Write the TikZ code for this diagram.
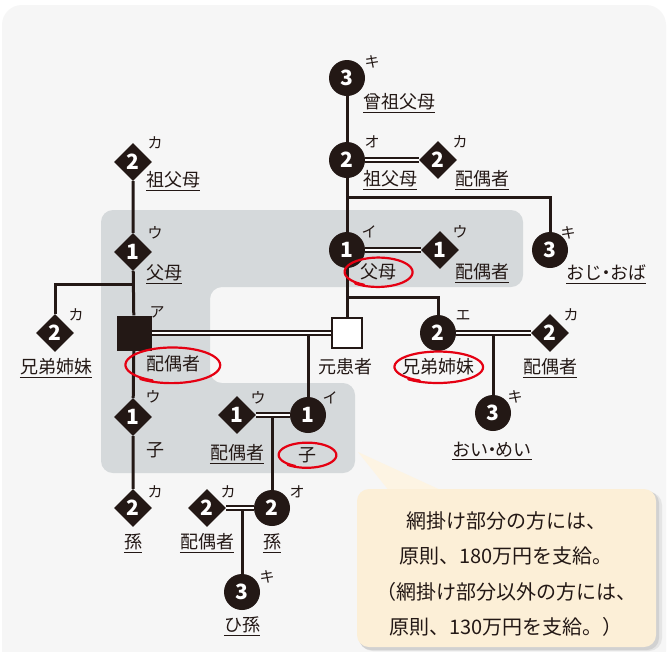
\documentclass[tikz,border=0pt]{standalone}
\usepackage{fontspec}
\setmainfont{Noto Sans CJK JP}
\usetikzlibrary{shapes.geometric,backgrounds}
\definecolor{ink}{HTML}{231815}
\definecolor{bgpanel}{HTML}{F6F6F6}
\definecolor{netgray}{HTML}{D5D9DB}
\definecolor{cream}{HTML}{FCEFD7}
\definecolor{redmark}{HTML}{E50012}
\newcommand\redloop[4]{\draw[redmark, line width=2.2pt, line cap=round] plot[smooth, domain=115:490, samples=50, variable=\t] ({#1+#3*(1+0.0002*(\t-115))*cos(\t)}, {#2+#4*(1+0.0002*(\t-115))*sin(\t)});}
\newcommand\mdot{\kern-0.28em・\kern-0.28em}
\tikzset{
  circ/.style={circle, fill=ink, minimum size=36pt, inner sep=0pt, text=white, font=\fontsize{21}{21}\selectfont\bfseries},
  dia/.style={diamond, fill=ink, minimum width=38pt, minimum height=38pt, inner sep=0pt, text=white, font=\fontsize{21}{21}\selectfont\bfseries},
  sqb/.style={rectangle, fill=ink, minimum size=35pt, inner sep=0pt},
  sqw/.style={rectangle, draw=ink, line width=2.6pt, fill=white, minimum size=30pt, inner sep=0pt},
  kana/.style={font=\fontsize{15}{15}\selectfont, text=ink, inner sep=0pt},
  lbl/.style={font=\fontsize{18}{18}\selectfont, text=ink, inner sep=0pt},
  link/.style={draw=ink, line width=3pt},
  dbl/.style={draw=ink, line width=1.5pt, double=white, double distance=2.6pt},
  ulline/.style={draw=ink, line width=0.9pt}
}
\begin{document}
\begin{tikzpicture}[x=1pt, y=-1pt]
\useasboundingbox (0,0) rectangle (668,651);
% ---- nodes: top column
\node[circ] (g3) at (347,78) {3};
\node[kana] (k1) at (372,62) {キ};
\node[lbl, anchor=west] (t1) at (363,102) {曾祖父母};
\node[circ] (g2) at (347,160) {2};
\node[kana] (k2) at (372,142) {オ};
\node[lbl, anchor=west] (t2) at (363,179) {祖父母};
\node[dia] (gs) at (438,160) {2};
\node[kana] (k3) at (460,142) {カ};
\node[lbl, anchor=west] (t3) at (455,179) {配偶者};
\node[circ] (p1) at (347,250) {1};
\node[kana] (k4) at (369,232) {イ};
\node[lbl] (t4) at (378,272) {父母};
\node[dia] (ps) at (440,250) {1};
\node[kana] (k5) at (460,232) {ウ};
\node[lbl, anchor=west] (t5) at (455,272) {配偶者};
\node[circ] (u3) at (550,250) {3};
\node[kana] (k6) at (568,233) {キ};
\node[lbl, anchor=west] (t6) at (566,273) {おじ\mdot おば};
\node[sqw] (pt) at (347,333) {};
\node[lbl] (t7) at (345,367) {元患者};
\node[circ] (s2) at (438,333) {2};
\node[kana] (k8) at (463,315) {エ};
\node[lbl] (t8) at (438,367) {兄弟姉妹};
\node[dia] (ss) at (550,333) {2};
\node[kana] (k9) at (571,315) {カ};
\node[lbl] (t9) at (550,367) {配偶者};
\node[circ] (n3) at (493,413) {3};
\node[kana] (k10) at (515,397) {キ};
\node[lbl] (t10) at (492,450) {おい\mdot めい};
% ---- nodes: left column
\node[dia] (lg2) at (133,162) {2};
\node[kana] (k11) at (155,143) {カ};
\node[lbl, anchor=west] (t11) at (146,180) {祖父母};
\node[dia] (lp1) at (133,252) {1};
\node[kana] (k12) at (155,233) {ウ};
\node[lbl, anchor=west] (t12) at (146,273) {父母};
\node[dia] (ls2) at (55,333) {2};
\node[kana] (k13) at (76,315) {カ};
\node[lbl] (t13) at (56,367) {兄弟姉妹};
\node[sqb] (sp) at (134,333) {};
\node[kana] (k14) at (157,312) {ア};
\node[lbl] (t14) at (173,364) {配偶者};
\node[dia] (c1d) at (133,417) {1};
\node[kana] (k15) at (153,397) {ウ};
\node[lbl] (t15) at (155,450) {子};
\node[dia] (gc2) at (133,508) {2};
\node[kana] (k16) at (155,492) {カ};
\node[lbl] (t16) at (133,542) {孫};
\node[circ] (c1) at (308,415) {1};
\node[kana] (k17) at (330,398) {イ};
\node[lbl] (t17) at (307,455) {子};
\node[dia] (cs) at (237,415) {1};
\node[kana] (k18) at (258,398) {ウ};
\node[lbl] (t18) at (237,453) {配偶者};
\node[circ] (gcb) at (272,508) {2};
\node[kana] (k19) at (297,492) {オ};
\node[lbl] (t19) at (272,542) {孫};
\node[dia] (gcs) at (207,508) {2};
\node[kana] (k20) at (228,492) {カ};
\node[lbl] (t20) at (207,542) {配偶者};
\node[circ] (gg3) at (242,592) {3};
\node[kana] (k21) at (267,577) {キ};
\node[lbl] (t21) at (242,625) {ひ孫};
% ---- callout text
\node[font=\fontsize{20}{35.5}\selectfont, text=ink, align=center, inner sep=0pt] (note) at (506,574)
  {網掛け部分の方には、\\原則、180万円を支給。\\（網掛け部分以外の方には、\\原則、130万円を支給。）};
% ---- branch coordinates
\coordinate (b1) at (133,284);
\coordinate (b2) at (347,197);
\coordinate (b3) at (347,297);
\coordinate (d1) at (308,333);
\coordinate (d2) at (493,333);
\coordinate (d3) at (272,415);
\coordinate (d4) at (242,508);
% ---- underlines
\foreach \n in {t1,t2,t3,t5,t6,t9,t10,t11,t12,t13,t16,t18,t19,t20,t21}
  \draw[ulline] ([yshift=-2pt]\n.south west) -- ([yshift=-2pt]\n.south east);
% ---- background layer
\begin{scope}[on background layer]
  \fill[white] (0,0) rectangle (668,651);
  \begin{scope}
    \clip (0,0) rectangle (668,651);
    \fill[bgpanel, rounded corners=20pt] (2,5) rectangle (666,700);
  \end{scope}
  \fill[netgray, rounded corners=12pt] (101,210) -- (523,210) -- (523,287) -- (210,287) -- (210,383) -- (355,383) -- (355,473) -- (101,473) -- cycle;
  % callout
  \fill[black!10, rounded corners=13pt] (360,492) rectangle (662,651);
  \fill[black!18, rounded corners=12pt] (359,491) rectangle (659,650);
  \fill[cream!70] (358,452) -- (445,492) -- (390,492) -- cycle;
  \fill[cream, rounded corners=12pt] (357,489) rectangle (656,647);
  % connectors
  \draw[link] (g3) -- (g2) -- (p1) -- (pt);
  \draw[link] (b2) -| (u3);
  \draw[link] (b3) -| (s2);
  \draw[link] (lg2) -- (lp1) -- (sp) -- (c1d) -- (gc2);
  \draw[link] (b1) -| (ls2);
  \draw[link] (d1) -- (c1);
  \draw[link] (d2) -- (n3);
  \draw[link] (d3) -- (gcb);
  \draw[link] (d4) -- (gg3);
  \draw[dbl] (g2) -- (gs);
  \draw[dbl] (p1) -- (ps);
  \draw[dbl] (sp) -- (pt);
  \draw[dbl] (s2) -- (ss);
  \draw[dbl] (cs) -- (c1);
  \draw[dbl] (gcs) -- (gcb);
\end{scope}
% ---- red hand-drawn loops
\redloop{378}{272}{33}{14}
\redloop{438}{367}{43}{15}
\redloop{172}{365}{46}{17}
\redloop{307}{455}{28}{12}
\end{tikzpicture}
\end{document}
